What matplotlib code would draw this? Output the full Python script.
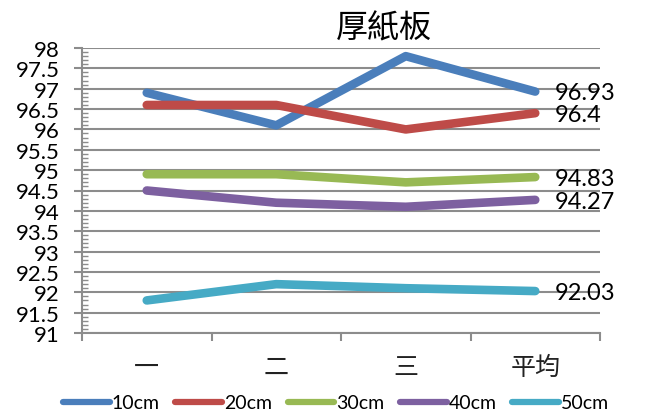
import numpy as np
import matplotlib
matplotlib.use('Agg')
from matplotlib import pyplot as plt
from matplotlib.ticker import MultipleLocator

plt.rcParams['font.family'] = ['Lato', 'Noto Sans CJK TC', 'DejaVu Sans']

categories = ['一', '二', '三', '平均']
labels = ['10cm', '20cm', '30cm', '40cm', '50cm']
s10 = [96.9, 96.1, 97.8, 96.93]
s20 = [96.6, 96.6, 96.0, 96.4]
s30 = [94.9, 94.9, 94.7, 94.83]
s40 = [94.5, 94.2, 94.1, 94.27]
s50 = [91.8, 92.2, 92.1, 92.03]
colors = ['#4A7EBB', '#BE4B48', '#98B954', '#7D60A0', '#46AAC5']

fig = plt.figure(figsize=(6.71, 4.14), dpi=100)
ax = fig.add_axes([82/671, 1-334/414, (600-82)/671, (334-49)/414])

x = np.arange(len(categories))
for ys, c, lab in zip([s10, s20, s30, s40, s50], colors, labels):
    ax.plot(x, ys, color=c, lw=6.2, solid_capstyle='round', solid_joinstyle='round', label=lab, zorder=3)
    ax.annotate('%g' % ys[-1], (x[-1], ys[-1]), xytext=(14, -1), textcoords='offset points',
                va='center', ha='left', fontsize=17, color='black')

ax.set_xlim(-0.5, 3.5)
ax.set_ylim(91, 98)
ax.yaxis.set_major_locator(MultipleLocator(0.5))
ax.yaxis.set_minor_locator(MultipleLocator(0.1))
ax.yaxis.set_major_formatter(plt.FuncFormatter(lambda v, p: '%g' % v))
ax.grid(axis='y', color='#8c8c8c', lw=1.5, zorder=1)

ax.set_xticks(x)
ax.set_xticklabels(categories, fontsize=18, family=['Noto Sans CJK TC'], fontweight=300, color='#222222')
ax.set_xticks(np.arange(-0.5, 4, 1), minor=True)
ax.tick_params(axis='x', which='major', length=0, pad=15)
ax.tick_params(axis='x', which='minor', length=6, width=1.5, color='#8c8c8c', direction='out')
ax.tick_params(axis='y', which='major', length=6, width=1.5, color='#8c8c8c', direction='out', labelsize=16, pad=10)
ax.tick_params(axis='y', which='minor', length=4, width=1, color='#8c8c8c', direction='in')

for s in ['top', 'right']:
    ax.spines[s].set_visible(False)
for s in ['left', 'bottom']:
    ax.spines[s].set_color('#8c8c8c')
    ax.spines[s].set_linewidth(1.5)

fig.text(384/671, 1-28/414, '厚紙板', ha='center', va='center', fontsize=23,
         family=['Noto Sans CJK TC'])

leg = fig.legend(loc='center', bbox_to_anchor=(336/671, 1-404/414), ncol=5, frameon=False,
                 fontsize=14, handlelength=2.4, handletextpad=0.1, columnspacing=0.8,
                 borderaxespad=0)
for h in leg.get_lines():
    h.set_linewidth(4.5)

fig.savefig('out.png', dpi=100)
